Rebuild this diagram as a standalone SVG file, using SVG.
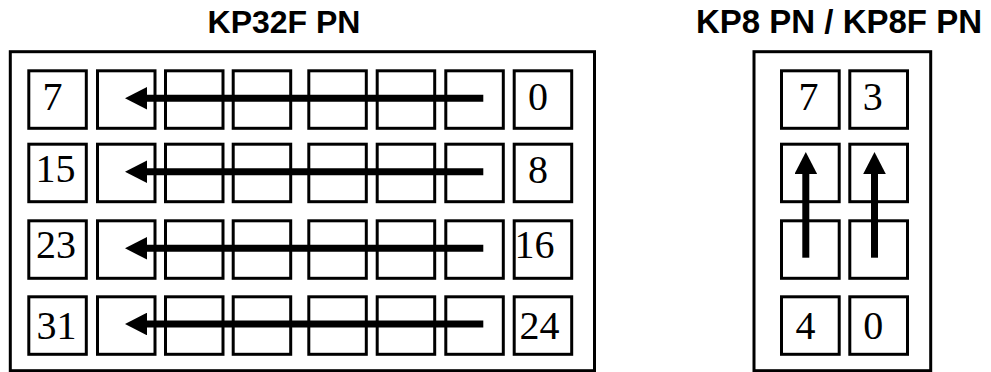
<svg xmlns="http://www.w3.org/2000/svg" width="991" height="372" viewBox="0 0 991 372">
  <style>
    .frame { fill: #fff; stroke: #000; stroke-width: 3; }
    .cell { fill: #fff; stroke: #000; stroke-width: 3; }
    .title { font-family: "Liberation Sans", Arial, sans-serif; font-weight: bold; font-size: 32px; fill: #000; text-anchor: middle; }
    .num { font-family: "Liberation Serif", "Times New Roman", serif; font-size: 40px; fill: #000; }
    .mid { text-anchor: middle; }
    .arrow { stroke: #000; stroke-width: 7; fill: none; marker-end: url(#head); }
  </style>
  <defs>
    <marker id="head" markerUnits="userSpaceOnUse" viewBox="0 0 22 22.6" markerWidth="22" markerHeight="22.6" refX="0" refY="11.3" orient="auto">
      <path d="M0,0 L22,11.3 L0,22.6 Z" fill="#000"/>
    </marker>
  </defs>
  <rect width="991" height="372" fill="#fff"/>

  <g id="kp32f">
    <text class="title" x="284" y="33">KP32F PN</text>
    <rect class="frame" x="10.3" y="51.7" width="584.2" height="319"/>
    <g id="kp32f-row1">
      <rect class="cell" x="28.8" y="70.8" width="57.5" height="57.5"/>
      <rect class="cell" x="97.5" y="70.8" width="57.5" height="57.5"/>
      <rect class="cell" x="165.5" y="70.8" width="57.5" height="57.5"/>
      <rect class="cell" x="233.2" y="70.8" width="57.5" height="57.5"/>
      <rect class="cell" x="308.8" y="70.8" width="57.5" height="57.5"/>
      <rect class="cell" x="377.2" y="70.8" width="57.5" height="57.5"/>
      <rect class="cell" x="445.8" y="70.8" width="57.5" height="57.5"/>
      <rect class="cell" x="514.2" y="70.8" width="57.5" height="57.5"/>
      <text class="num" x="42.5" y="110">7</text>
      <text class="num" x="528" y="110">0</text>
    </g>
    <g id="kp32f-row2">
      <rect class="cell" x="28.8" y="144.2" width="57.5" height="57.5"/>
      <rect class="cell" x="97.5" y="144.2" width="57.5" height="57.5"/>
      <rect class="cell" x="165.5" y="144.2" width="57.5" height="57.5"/>
      <rect class="cell" x="233.2" y="144.2" width="57.5" height="57.5"/>
      <rect class="cell" x="308.8" y="144.2" width="57.5" height="57.5"/>
      <rect class="cell" x="377.2" y="144.2" width="57.5" height="57.5"/>
      <rect class="cell" x="445.8" y="144.2" width="57.5" height="57.5"/>
      <rect class="cell" x="514.2" y="144.2" width="57.5" height="57.5"/>
      <text class="num" x="35.6" y="182">15</text>
      <text class="num" x="528" y="182.5">8</text>
    </g>
    <g id="kp32f-row3">
      <rect class="cell" x="28.8" y="220.8" width="57.5" height="57.5"/>
      <rect class="cell" x="97.5" y="220.8" width="57.5" height="57.5"/>
      <rect class="cell" x="165.5" y="220.8" width="57.5" height="57.5"/>
      <rect class="cell" x="233.2" y="220.8" width="57.5" height="57.5"/>
      <rect class="cell" x="308.8" y="220.8" width="57.5" height="57.5"/>
      <rect class="cell" x="377.2" y="220.8" width="57.5" height="57.5"/>
      <rect class="cell" x="445.8" y="220.8" width="57.5" height="57.5"/>
      <rect class="cell" x="514.2" y="220.8" width="57.5" height="57.5"/>
      <text class="num" x="36" y="257.5">23</text>
      <text class="num" x="514.6" y="257.5">16</text>
    </g>
    <g id="kp32f-row4">
      <rect class="cell" x="28.8" y="296.8" width="57.5" height="57.5"/>
      <rect class="cell" x="97.5" y="296.8" width="57.5" height="57.5"/>
      <rect class="cell" x="165.5" y="296.8" width="57.5" height="57.5"/>
      <rect class="cell" x="233.2" y="296.8" width="57.5" height="57.5"/>
      <rect class="cell" x="308.8" y="296.8" width="57.5" height="57.5"/>
      <rect class="cell" x="377.2" y="296.8" width="57.5" height="57.5"/>
      <rect class="cell" x="445.8" y="296.8" width="57.5" height="57.5"/>
      <rect class="cell" x="514.2" y="296.8" width="57.5" height="57.5"/>
      <text class="num" x="36.5" y="338.5">31</text>
      <text class="num" x="519.5" y="338.5">24</text>
    </g>
  </g>

  <g id="kp8">
    <text class="title" x="839" y="33" style="font-size:33px">KP8 PN / KP8F PN</text>
    <rect class="frame" x="754" y="51.7" width="176.7" height="319"/>
    <rect class="cell" x="781.5" y="70.8" width="57.7" height="57.5"/>
    <rect class="cell" x="849.8" y="70.8" width="57.7" height="57.5"/>
    <rect class="cell" x="781.5" y="144.2" width="57.7" height="57.5"/>
    <rect class="cell" x="849.8" y="144.2" width="57.7" height="57.5"/>
    <rect class="cell" x="781.5" y="220.8" width="57.7" height="57.5"/>
    <rect class="cell" x="849.8" y="220.8" width="57.7" height="57.5"/>
    <rect class="cell" x="781.5" y="296.8" width="57.7" height="57.5"/>
    <rect class="cell" x="849.8" y="296.8" width="57.7" height="57.5"/>
    <text class="num mid" x="808.5" y="110">7</text>
    <text class="num mid" x="872.7" y="110">3</text>
    <text class="num mid" x="805.5" y="338.5">4</text>
    <text class="num mid" x="873.3" y="338.5">0</text>
  </g>

  <g id="connectors">
    <line class="arrow" x1="483.3" y1="98.3" x2="147" y2="98.3"/>
    <line class="arrow" x1="483.3" y1="171.7" x2="147" y2="171.7"/>
    <line class="arrow" x1="483.3" y1="248.3" x2="147" y2="248.3"/>
    <line class="arrow" x1="483.3" y1="324" x2="147" y2="324"/>
    <line class="arrow" x1="805.8" y1="257.7" x2="805.8" y2="174"/>
    <line class="arrow" x1="874.5" y1="257.7" x2="874.5" y2="174"/>
  </g>
</svg>
